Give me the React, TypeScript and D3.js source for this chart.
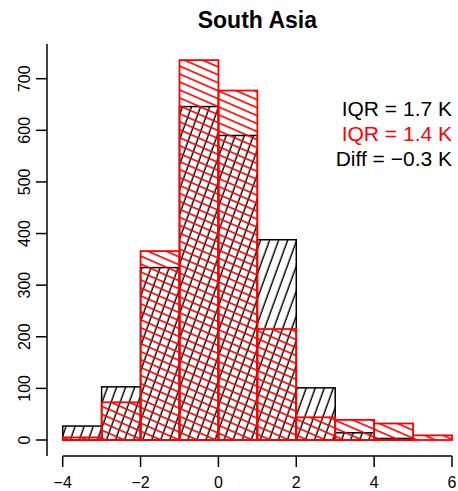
import React from "react";
import * as d3 from "d3";

const binStarts = [-4, -3, -2, -1, 0, 1, 2, 3, 4, 5];
const blackCounts = [27, 103, 334, 646, 590, 388, 101, 14, 3, 0];
const redCounts = [5, 73, 366, 736, 677, 215, 44, 39, 32, 9];
const xTicks = [-4, -2, 0, 2, 4, 6];
const yTicks = [0, 100, 200, 300, 400, 500, 600, 700];
const legendLines = [
  { text: "IQR = 1.7 K", color: "#000000" },
  { text: "IQR = 1.4 K", color: "#ff0000" },
  { text: "Diff = \u22120.3 K", color: "#000000" },
];
const title = "South Asia";

const W = 458;
const H = 491;
const font = "'Liberation Sans', Arial, Helvetica, sans-serif";

export default function App() {
  const x = d3.scaleLinear().domain([-4, 6]).range([62.7, 452]);
  const y = d3.scaleLinear().domain([0, 700]).range([440, 78.7]);
  const fmt = (v: number) => (v < 0 ? "\u2212" + Math.abs(v) : String(v));

  return (
    <svg
      width={W}
      height={H}
      style={{ position: "absolute", left: 0, top: 0, background: "#fff" }}
      fontFamily={font}
    >
      <defs>
        <pattern
          id="hatchBlack"
          patternUnits="userSpaceOnUse"
          width={40}
          height={8.5}
          patternTransform="rotate(-70)"
        >
          <line x1={-5} x2={45} y1={4} y2={4} stroke="#000" strokeWidth={1.3} />
        </pattern>
        <pattern
          id="hatchRed"
          patternUnits="userSpaceOnUse"
          width={40}
          height={7.3}
          patternTransform="rotate(23.5)"
        >
          <line x1={-5} x2={45} y1={3.6} y2={3.6} stroke="#ff0000" strokeWidth={1.6} />
        </pattern>
      </defs>

      <text
        x={(x(-4) + x(6)) / 2}
        y={28}
        textAnchor="middle"
        fontWeight="bold"
        fontSize={23}
      >
        {title}
      </text>

      {/* black histogram */}
      <g>
        {binStarts.map((b, i) =>
          blackCounts[i] > 0 ? (
            <rect
              key={"b" + i}
              x={x(b)}
              width={x(b + 1) - x(b)}
              y={y(blackCounts[i])}
              height={y(0) - y(blackCounts[i])}
              fill="url(#hatchBlack)"
              stroke="#000"
              strokeWidth={1.5}
            />
          ) : null
        )}
      </g>

      {/* red histogram */}
      <g>
        {binStarts.map((b, i) => (
          <rect
            key={"r" + i}
            x={x(b)}
            width={x(b + 1) - x(b)}
            y={y(redCounts[i])}
            height={y(0) - y(redCounts[i])}
            fill="url(#hatchRed)"
            stroke="#ff0000"
            strokeWidth={1.8}
          />
        ))}
      </g>

      {/* y axis */}
      <g>
        <line x1={47} x2={47} y1={44} y2={456} stroke="#000" strokeWidth={1.5} />
        {yTicks.map((t) => (
          <g key={"yt" + t}>
            <line x1={36} x2={47} y1={y(t)} y2={y(t)} stroke="#000" strokeWidth={1.5} />
            <text
              transform={`translate(30.3,${y(t)}) rotate(-90)`}
              textAnchor="middle"
              fontSize={16}
            >
              {fmt(t)}
            </text>
          </g>
        ))}
      </g>

      {/* x axis */}
      <g>
        <line x1={x(-4)} x2={x(6)} y1={456} y2={456} stroke="#000" strokeWidth={1.5} />
        {xTicks.map((t) => (
          <g key={"xt" + t}>
            <line x1={x(t)} x2={x(t)} y1={456} y2={467} stroke="#000" strokeWidth={1.5} />
            <text x={x(t)} y={488} textAnchor="middle" fontSize={16}>
              {fmt(t)}
            </text>
          </g>
        ))}
      </g>

      {/* legend */}
      {legendLines.map((l, i) => (
        <text
          key={"lg" + i}
          x={452}
          y={116 + i * 25}
          textAnchor="end"
          fontSize={21}
          fill={l.color}
        >
          {l.text}
        </text>
      ))}
    </svg>
  );
}
